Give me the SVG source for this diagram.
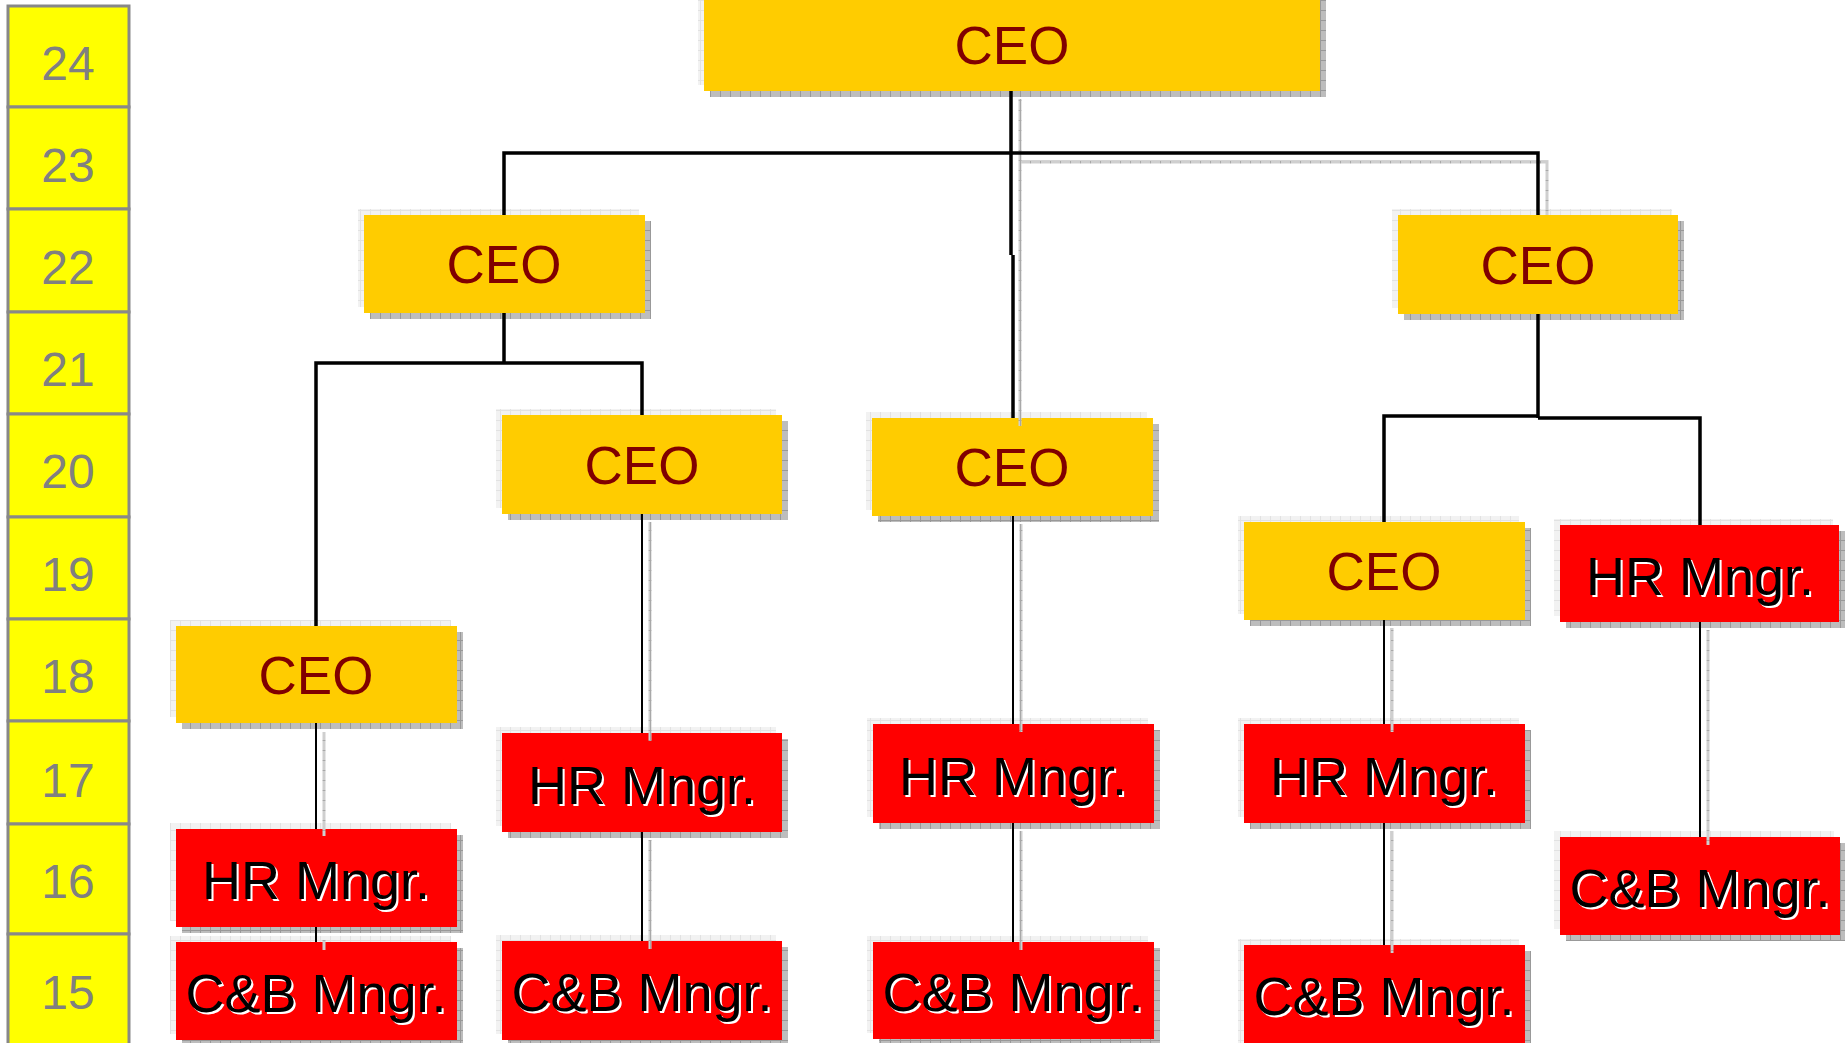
<svg xmlns="http://www.w3.org/2000/svg" width="1845" height="1043" viewBox="0 0 1845 1043">
<style>
  .cell { fill: #FFFF00; stroke: #888888; stroke-width: 3; }
  .num { font-family: "Liberation Sans", Arial, sans-serif; font-size: 48px; fill: #808080; text-anchor: middle; }
  .hl { fill: url(#hlPat); }
  .sh { fill: url(#shPat); }
  .yel { fill: #FFCC00; }
  .red { fill: #FF0000; }
  .lbl { font-family: "Liberation Sans", Arial, sans-serif; font-size: 53px; text-anchor: middle; }
  .mg { font-size: 54px; }
  .ceo { fill: #800000; }
  .mgr { fill: #000000; }
  .mgrsh { fill: #FFFFFF; }
  .thick { stroke: #000; stroke-width: 3.5; fill: none; }
  .thin { stroke: #000; stroke-width: 2; fill: none; }
  .lsh { stroke: url(#lshPat); stroke-width: 3; fill: none; }
</style>
<defs>
  <pattern id="hlPat" patternUnits="userSpaceOnUse" width="10" height="10">
    <rect width="10" height="10" fill="#F2F2F2"/>
    <path d="M0,0.5 H10 M0.5,0 V10" stroke="#E2E2E2" stroke-width="1"/>
  </pattern>
  <pattern id="shPat" patternUnits="userSpaceOnUse" width="10" height="10">
    <rect width="10" height="10" fill="#BDBDBD"/>
    <path d="M0,0.5 H10 M0.5,0 V10" stroke="#999999" stroke-width="1"/>
  </pattern>
  <pattern id="lshPat" patternUnits="userSpaceOnUse" width="10" height="10">
    <rect width="10" height="10" fill="#CFCFCF"/>
    <path d="M0,0.5 H10 M0.5,0 V10" stroke="#A8A8A8" stroke-width="1"/>
  </pattern>
</defs>
<rect width="1845" height="1043" fill="#FFFFFF"/>

<g id="scale">
  <g id="row-24"><rect class="cell" x="8" y="6" width="121" height="101"/><text class="num" x="68" y="80">24</text></g>
  <g id="row-23"><rect class="cell" x="8" y="107" width="121" height="102"/><text class="num" x="68" y="182">23</text></g>
  <g id="row-22"><rect class="cell" x="8" y="209" width="121" height="103"/><text class="num" x="68" y="284">22</text></g>
  <g id="row-21"><rect class="cell" x="8" y="312" width="121" height="102"/><text class="num" x="68" y="386">21</text></g>
  <g id="row-20"><rect class="cell" x="8" y="414" width="121" height="103"/><text class="num" x="68" y="488">20</text></g>
  <g id="row-19"><rect class="cell" x="8" y="517" width="121" height="102"/><text class="num" x="68" y="591">19</text></g>
  <g id="row-18"><rect class="cell" x="8" y="619" width="121" height="102"/><text class="num" x="68" y="693">18</text></g>
  <g id="row-17"><rect class="cell" x="8" y="721" width="121" height="103"/><text class="num" x="68" y="797">17</text></g>
  <g id="row-16"><rect class="cell" x="8" y="824" width="121" height="110"/><text class="num" x="68" y="898">16</text></g>
  <g id="row-15"><rect class="cell" x="8" y="934" width="121" height="120"/><text class="num" x="68" y="1009">15</text></g>
</g>

<g id="n-ceo-top">
  <rect class="hl" x="698" y="-14" width="616" height="99"/>
  <rect class="sh" x="710" y="-2" width="616" height="99"/>
  <rect class="yel" x="704" y="-8" width="616" height="99"/>
  <text class="lbl ceo" x="1012" y="64">CEO</text>
</g>
<g id="n-ceo-l2a">
  <rect class="hl" x="358" y="209" width="281" height="98"/>
  <rect class="sh" x="370" y="221" width="281" height="98"/>
  <rect class="yel" x="364" y="215" width="281" height="98"/>
  <text class="lbl ceo" x="504" y="283">CEO</text>
</g>
<g id="n-ceo-l2b">
  <rect class="hl" x="1392" y="209" width="280" height="99"/>
  <rect class="sh" x="1404" y="221" width="280" height="99"/>
  <rect class="yel" x="1398" y="215" width="280" height="99"/>
  <text class="lbl ceo" x="1538" y="284">CEO</text>
</g>
<g id="n-ceo-l3a">
  <rect class="hl" x="496" y="409" width="280" height="99"/>
  <rect class="sh" x="508" y="421" width="280" height="99"/>
  <rect class="yel" x="502" y="415" width="280" height="99"/>
  <text class="lbl ceo" x="642" y="484">CEO</text>
</g>
<g id="n-ceo-l3b">
  <rect class="hl" x="866" y="412" width="281" height="98"/>
  <rect class="sh" x="878" y="424" width="281" height="98"/>
  <rect class="yel" x="872" y="418" width="281" height="98"/>
  <text class="lbl ceo" x="1012" y="486">CEO</text>
</g>
<g id="n-ceo-l4">
  <rect class="hl" x="1238" y="516" width="281" height="98"/>
  <rect class="sh" x="1250" y="528" width="281" height="98"/>
  <rect class="yel" x="1244" y="522" width="281" height="98"/>
  <text class="lbl ceo" x="1384" y="590">CEO</text>
</g>
<g id="n-hr-5">
  <rect class="hl" x="1554" y="519" width="279" height="97"/>
  <rect class="sh" x="1566" y="531" width="279" height="97"/>
  <rect class="red" x="1560" y="525" width="279" height="97"/>
  <text class="lbl mg mgrsh" x="1702" y="597">HR Mngr.</text>
  <text class="lbl mg mgr" x="1700" y="595">HR Mngr.</text>
</g>
<g id="n-ceo-l5">
  <rect class="hl" x="170" y="620" width="281" height="97"/>
  <rect class="sh" x="182" y="632" width="281" height="97"/>
  <rect class="yel" x="176" y="626" width="281" height="97"/>
  <text class="lbl ceo" x="316" y="694">CEO</text>
</g>
<g id="n-hr-1">
  <rect class="hl" x="170" y="823" width="281" height="98"/>
  <rect class="sh" x="182" y="835" width="281" height="98"/>
  <rect class="red" x="176" y="829" width="281" height="98"/>
  <text class="lbl mg mgrsh" x="318" y="901">HR Mngr.</text>
  <text class="lbl mg mgr" x="316" y="899">HR Mngr.</text>
</g>
<g id="n-cb-1">
  <rect class="hl" x="170" y="936" width="281" height="98"/>
  <rect class="sh" x="182" y="948" width="281" height="98"/>
  <rect class="red" x="176" y="942" width="281" height="98"/>
  <text class="lbl mg mgrsh" x="318" y="1014">C&amp;B Mngr.</text>
  <text class="lbl mg mgr" x="316" y="1012">C&amp;B Mngr.</text>
</g>
<g id="n-hr-2">
  <rect class="hl" x="496" y="727" width="280" height="99"/>
  <rect class="sh" x="508" y="739" width="280" height="99"/>
  <rect class="red" x="502" y="733" width="280" height="99"/>
  <text class="lbl mg mgrsh" x="644" y="806">HR Mngr.</text>
  <text class="lbl mg mgr" x="642" y="804">HR Mngr.</text>
</g>
<g id="n-cb-2">
  <rect class="hl" x="496" y="935" width="280" height="99"/>
  <rect class="sh" x="508" y="947" width="280" height="99"/>
  <rect class="red" x="502" y="941" width="280" height="99"/>
  <text class="lbl mg mgrsh" x="644" y="1013">C&amp;B Mngr.</text>
  <text class="lbl mg mgr" x="642" y="1011">C&amp;B Mngr.</text>
</g>
<g id="n-hr-3">
  <rect class="hl" x="867" y="718" width="281" height="99"/>
  <rect class="sh" x="879" y="730" width="281" height="99"/>
  <rect class="red" x="873" y="724" width="281" height="99"/>
  <text class="lbl mg mgrsh" x="1015" y="797">HR Mngr.</text>
  <text class="lbl mg mgr" x="1013" y="795">HR Mngr.</text>
</g>
<g id="n-cb-3">
  <rect class="hl" x="867" y="936" width="281" height="97"/>
  <rect class="sh" x="879" y="948" width="281" height="97"/>
  <rect class="red" x="873" y="942" width="281" height="97"/>
  <text class="lbl mg mgrsh" x="1015" y="1013">C&amp;B Mngr.</text>
  <text class="lbl mg mgr" x="1013" y="1011">C&amp;B Mngr.</text>
</g>
<g id="n-hr-4">
  <rect class="hl" x="1238" y="718" width="281" height="99"/>
  <rect class="sh" x="1250" y="730" width="281" height="99"/>
  <rect class="red" x="1244" y="724" width="281" height="99"/>
  <text class="lbl mg mgrsh" x="1386" y="797">HR Mngr.</text>
  <text class="lbl mg mgr" x="1384" y="795">HR Mngr.</text>
</g>
<g id="n-cb-4">
  <rect class="hl" x="1238" y="939" width="281" height="104"/>
  <rect class="sh" x="1250" y="951" width="281" height="104"/>
  <rect class="red" x="1244" y="945" width="281" height="104"/>
  <text class="lbl mg mgrsh" x="1386" y="1017">C&amp;B Mngr.</text>
  <text class="lbl mg mgr" x="1384" y="1015">C&amp;B Mngr.</text>
</g>
<g id="n-cb-5">
  <rect class="hl" x="1554" y="831" width="280" height="98"/>
  <rect class="sh" x="1566" y="843" width="280" height="98"/>
  <rect class="red" x="1560" y="837" width="280" height="98"/>
  <text class="lbl mg mgrsh" x="1702" y="909">C&amp;B Mngr.</text>
  <text class="lbl mg mgr" x="1700" y="907">C&amp;B Mngr.</text>
</g>

<g id="connectors">
  <path class="lsh" d="M1020,99 V426"/>
  <path class="lsh" d="M1020,162 H1547 V215"/>
  <path class="lsh" d="M324,732 V836 M324,940 V950"/>
  <path class="lsh" d="M650,522 V741 M650,840 V949"/>
  <path class="lsh" d="M1021,524 V732 M1021,831 V950"/>
  <path class="lsh" d="M1392,628 V732 M1392,831 V953"/>
  <path class="lsh" d="M1708,630 V845"/>
  <path class="thick" d="M1011,91 V255"/>
  <path class="thick" d="M1013,255 V418" stroke-width="2.5"/>
  <path class="thick" d="M504,215 V153 H1538 V215"/>
  <path class="thick" d="M504,313 V363"/>
  <path class="thick" d="M316,626 V363 H642 V415"/>
  <path class="thick" d="M1538,314 V418"/>
  <path class="thick" d="M1384,522 V416 H1538 M1538,418 H1700 V525"/>
  <path class="thin" d="M316,723 V829 M316,927 V942"/>
  <path class="thin" d="M642,514 V733 M642,832 V941"/>
  <path class="thin" d="M1013,516 V724 M1013,823 V942"/>
  <path class="thin" d="M1384,620 V724 M1384,823 V945"/>
  <path class="thin" d="M1700,622 V837"/>
</g>
</svg>
